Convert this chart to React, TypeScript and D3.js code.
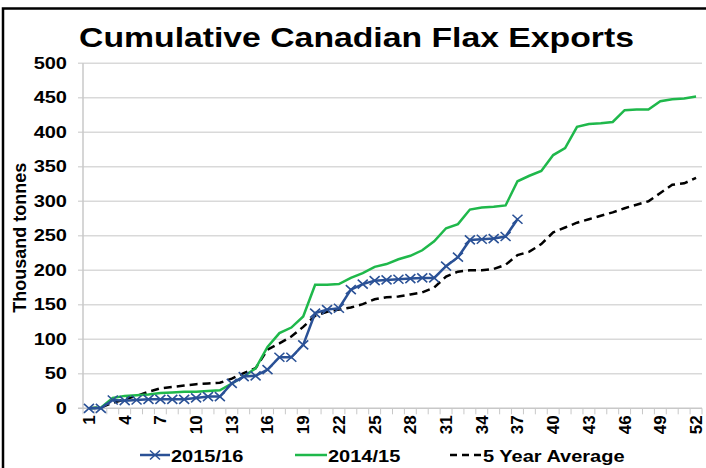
import { useEffect, useRef } from 'react';
import * as d3 from 'd3';

// weekly cumulative exports, thousand tonnes
const weeks = d3.range(1, 53);
const exports1516 = [0, 0, 12, 11, 12, 13, 13, 13, 13, 15, 17, 17, 36, 46, 47, 56, 74, 74, 92, 138, 143, 145,
  172, 180, 185, 186, 187, 188, 189, 189, 206, 219, 244, 245, 246, 249, 274];
const exports1415 = [0, 1, 15, 18, 19, 20, 22, 23, 24, 24, 25, 26, 36, 46, 58, 89, 109, 117, 133, 179, 179, 180,
  189, 196, 205, 209, 216, 221, 229, 242, 261, 267, 288, 291, 292, 294, 329, 337, 344, 367, 377, 408,
  412, 413, 415, 432, 433, 433, 445, 448, 449, 452];
const fiveYearAvg = [0, 1, 8, 13, 18, 24, 29, 31, 33, 35, 36, 37, 43, 51, 58, 85, 94, 104, 118, 134, 140, 143,
  146, 151, 158, 161, 162, 165, 168, 175, 191, 198, 200, 200, 202, 208, 222, 227, 238, 255, 262, 269,
  274, 279, 284, 290, 295, 300, 312, 324, 326, 334];
const yTicks = [0, 50, 100, 150, 200, 250, 300, 350, 400, 450, 500];
const xLabels = weeks.filter(w => (w - 1) % 3 === 0);

const BLUE = '#2a5196';
const GREEN = '#1fb84b';
const STRETCH = 1.25; // the source image is a bit wider than tall

export default function App() {
  const ref = useRef<SVGSVGElement>(null);

  useEffect(() => {
    const svg = d3.select(ref.current);
    svg.selectAll('*').remove();

    const left = 83, right = 702, top = 63.3, bottom = 408.3;
    const font = 'Liberation Sans, Arial, sans-serif';

    const x = d3.scaleBand<number>().domain(weeks).range([left, right]);
    const cx = (w: number) => (x(w) as number) + x.bandwidth() / 2;
    const y = d3.scaleLinear().domain([0, 500]).range([bottom, top]);

    // wide bold text
    const label = (g: any, tx: number, ty: number, s: string, size: number, anchor = 'start') =>
      g.append('text')
        .attr('transform', `translate(${tx},${ty}) scale(${STRETCH},1)`)
        .attr('text-anchor', anchor).attr('dy', '0.35em')
        .style('font-family', font).style('font-weight', 'bold').style('font-size', size + 'px')
        .text(s);

    svg.append('rect').attr('width', 706).attr('height', 468).attr('fill', '#fff');
    // outer frame
    svg.append('rect')
      .attr('x', 3).attr('y', 8.5).attr('width', 720).attr('height', 480)
      .attr('fill', 'none').attr('stroke', '#000').attr('stroke-width', 2.5);

    label(svg, 356.5, 38, 'Cumulative Canadian Flax Exports', 27, 'middle');

    // gridlines + y labels
    svg.append('g').selectAll('line').data(yTicks.filter(t => t > 0)).join('line')
      .attr('x1', left - 5).attr('x2', right)
      .attr('y1', d => y(d)).attr('y2', d => y(d))
      .attr('stroke', '#d9d9d9').attr('stroke-width', 1.5);
    const yl = svg.append('g');
    yTicks.forEach(t => label(yl, 67, y(t), String(t), 16, 'end'));

    svg.append('text')
      .attr('transform', `translate(20,${(top + bottom) / 2 + 2}) rotate(-90)`)
      .attr('text-anchor', 'middle').attr('dy', '0.35em')
      .style('font-family', font).style('font-weight', 'bold').style('font-size', '18px')
      .text('Thousand tonnes');

    // axes lines
    svg.append('line').attr('x1', left).attr('x2', left).attr('y1', top).attr('y2', bottom)
      .attr('stroke', '#c8c8c8').attr('stroke-width', 1.5);
    svg.append('line').attr('x1', left - 5).attr('x2', right).attr('y1', bottom).attr('y2', bottom)
      .attr('stroke', '#c8c8c8').attr('stroke-width', 1.5);
    const bounds = weeks.map(w => x(w) as number).concat([right]);
    svg.append('g').selectAll('line').data(bounds).join('line')
      .attr('x1', d => d).attr('x2', d => d).attr('y1', bottom).attr('y2', bottom + 6)
      .attr('stroke', '#c8c8c8').attr('stroke-width', 1);

    svg.append('g').selectAll('text').data(xLabels).join('text')
      .attr('transform', d => `translate(${cx(d)},${bottom + 7}) rotate(-90)`)
      .attr('text-anchor', 'end').attr('dy', '0.35em')
      .style('font-family', font).style('font-weight', 'bold').style('font-size', '17px')
      .text(d => d);

    const line = d3.line<number>().x((_, i) => cx(weeks[i])).y(d => y(d));

    svg.append('path').datum(fiveYearAvg).attr('d', line)
      .attr('fill', 'none').attr('stroke', '#000').attr('stroke-width', 2.5)
      .attr('stroke-dasharray', '8,5');
    svg.append('path').datum(exports1415).attr('d', line)
      .attr('fill', 'none').attr('stroke', GREEN).attr('stroke-width', 2.5);
    svg.append('path').datum(exports1516).attr('d', line)
      .attr('fill', 'none').attr('stroke', BLUE).attr('stroke-width', 2.5);

    const cross = (g: any, px: number, py: number) => {
      g.append('path')
        .attr('d', `M${px - 5},${py - 4.5}L${px + 5},${py + 4.5}M${px - 5},${py + 4.5}L${px + 5},${py - 4.5}`)
        .attr('stroke', BLUE).attr('stroke-width', 1.6).attr('fill', 'none');
    };
    const marks = svg.append('g');
    exports1516.forEach((v, i) => cross(marks, cx(weeks[i]), y(v)));

    // legend
    const ly = 455;
    const lg = svg.append('g');
    lg.append('line').attr('x1', 140).attr('x2', 170).attr('y1', ly).attr('y2', ly)
      .attr('stroke', BLUE).attr('stroke-width', 2.5);
    cross(lg, 155, ly);
    label(lg, 171, ly + 1, '2015/16', 16);
    lg.append('line').attr('x1', 295).attr('x2', 327).attr('y1', ly).attr('y2', ly)
      .attr('stroke', GREEN).attr('stroke-width', 2.5);
    label(lg, 328, ly + 1, '2014/15', 16);
    lg.append('line').attr('x1', 450).attr('x2', 482).attr('y1', ly).attr('y2', ly)
      .attr('stroke', '#000').attr('stroke-width', 2.5).attr('stroke-dasharray', '7,5');
    label(lg, 483, ly + 1, '5 Year Average', 16);
  }, []);

  return (
    <svg ref={ref} width={706} height={468}
      style={{ position: 'fixed', left: 0, top: 0, display: 'block' }} />
  );
}
